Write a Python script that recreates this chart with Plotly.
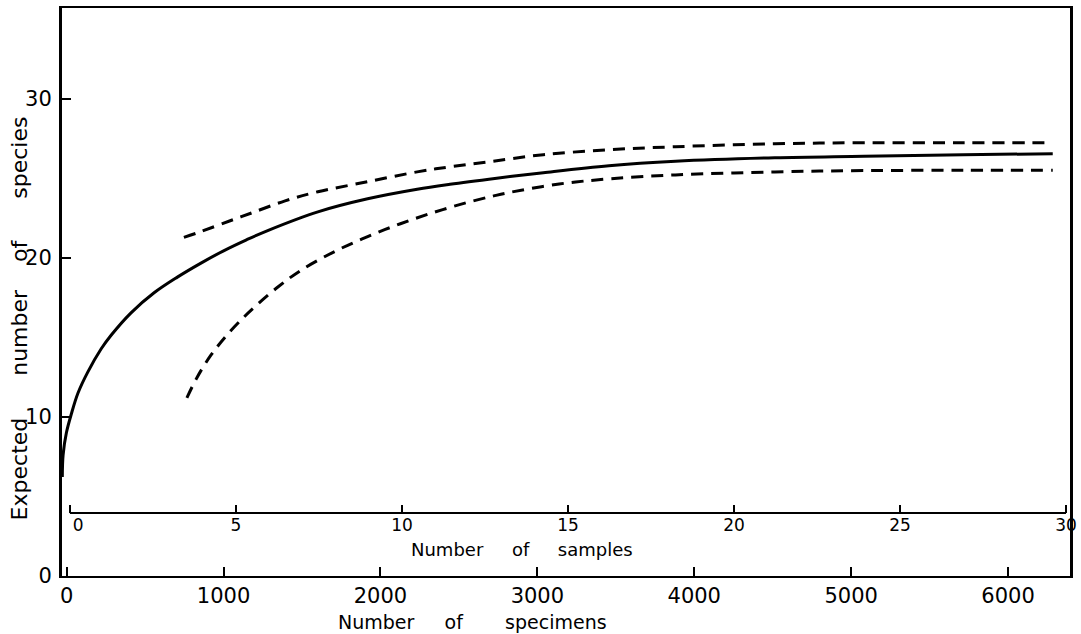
import plotly.graph_objects as go

# ---- data ----
specimens_mean = [-28, -23, -2, 30, 72, 135, 220, 283, 410, 557, 703, 853, 1000, 1146,
                  1285, 1601, 1918, 2234, 2443, 2741, 3038, 3456, 3880, 4513, 5082, 5715, 6285]
species_mean = [6.23, 7.6, 9.0, 10.2, 11.5, 12.83, 14.28, 15.13, 16.54, 17.8, 18.77, 19.65, 20.44,
                21.13, 21.73, 22.89, 23.71, 24.31, 24.62, 25.0, 25.35, 25.79, 26.07, 26.29,
                26.38, 26.48, 26.54]

specimens_upper = [747, 853, 1042, 1190, 1392, 1601, 1918, 2234, 2443, 2696, 3038, 3456,
                   3880, 4513, 5082, 5715, 6285]
species_upper = [21.28, 21.64, 22.33, 22.86, 23.58, 24.15, 24.78, 25.4, 25.72, 26.04, 26.48,
                 26.79, 26.98, 27.17, 27.23, 27.23, 27.23]

specimens_lower = [766, 829, 918, 1019, 1127, 1190, 1348, 1494, 1709, 1918, 2127, 2342,
                   2551, 2722, 2823, 3139, 3456, 3880, 4513, 5082, 5715, 6285]
species_lower = [11.19, 12.45, 13.86, 15.12, 16.25, 16.84, 18.18, 19.22, 20.4, 21.33, 22.14,
                 22.86, 23.47, 23.89, 24.11, 24.64, 24.96, 25.21, 25.4, 25.48, 25.5, 25.5]

specimen_ticks = [0, 1000, 2000, 3000, 4000, 5000, 6000]
species_ticks = [0, 10, 20, 30]
sample_ticks = [0, 5, 10, 15, 20, 25, 30]
sample_axis_level = 3.96  # species value where the samples axis is drawn

FONT = "DejaVu Sans"
NB = "\u00a0"

# first sample tick label nudged right (as in the original)
sample_ticktext = [str(v) for v in sample_ticks]
sample_ticktext[0] = NB * 3 + sample_ticktext[0]

fig = go.Figure()

fig.add_trace(go.Scatter(x=specimens_mean, y=species_mean, mode="lines",
                         line=dict(color="black", width=3, shape="spline", smoothing=1.0),
                         hoverinfo="skip", showlegend=False))
fig.add_trace(go.Scatter(x=specimens_upper, y=species_upper, mode="lines",
                         line=dict(color="black", width=3, dash="12px,8px", shape="spline", smoothing=1.0),
                         hoverinfo="skip", showlegend=False))
fig.add_trace(go.Scatter(x=specimens_lower, y=species_lower, mode="lines",
                         line=dict(color="black", width=3, dash="12px,8px", shape="spline", smoothing=1.0),
                         hoverinfo="skip", showlegend=False))

# samples axis line (secondary x axis)
fig.add_trace(go.Scatter(x=[sample_ticks[0], sample_ticks[-1]],
                         y=[sample_axis_level, sample_axis_level],
                         xaxis="x2", yaxis="y", mode="lines",
                         line=dict(color="black", width=2),
                         hoverinfo="skip", showlegend=False))

y_max = 35.7
fig.update_layout(
    width=1081, height=634,
    margin=dict(l=62, r=4, t=8, b=58),
    paper_bgcolor="white", plot_bgcolor="rgba(0,0,0,0)",
    font=dict(family=FONT, color="black"),
    xaxis=dict(range=[-30, 6395], tickvals=specimen_ticks,
               ticktext=[str(v) for v in specimen_ticks],
               ticks="inside", ticklen=9, tickwidth=2, tickcolor="black",
               showline=True, linewidth=2, linecolor="black", mirror=True,
               showgrid=False, zeroline=False,
               tickfont=dict(family=FONT, size=21, color="black")),
    xaxis2=dict(overlaying="x", anchor="free", position=sample_axis_level / y_max,
                side="bottom", range=[-0.239, 30.12], tickvals=sample_ticks,
                ticktext=sample_ticktext,
                ticks="inside", ticklen=8, tickwidth=2, tickcolor="black",
                showline=False, showgrid=False, zeroline=False,
                tickfont=dict(family=FONT, size=17, color="black")),
    yaxis=dict(range=[0, y_max], tickvals=species_ticks,
               ticktext=[str(v) for v in species_ticks],
               ticks="inside", ticklen=9, tickwidth=2, tickcolor="black",
               showline=True, linewidth=3, linecolor="black", mirror=True,
               showgrid=False, zeroline=False, ticklabelstandoff=3,
               tickfont=dict(family=FONT, size=21, color="black")),
    annotations=[
        dict(text=("Expected" + NB * 6 + "number" + NB * 4 + "of" + NB * 6 + "species"),
             xref="paper", yref="paper", x=-0.0424, y=0.454, textangle=-90,
             showarrow=False, xanchor="center", yanchor="middle",
             font=dict(family=FONT, size=22, color="black")),
        dict(text=("Number" + NB * 5 + "of" + NB * 5 + "samples"),
             xref="paper", yref="paper", x=0.456, y=0.0458,
             showarrow=False, xanchor="center", yanchor="middle",
             font=dict(family=FONT, size=18, color="black")),
        dict(text=("Number" + NB * 5 + "of" + NB * 7 + "specimens"),
             xref="paper", yref="paper", x=0.407, y=-0.081,
             showarrow=False, xanchor="center", yanchor="middle",
             font=dict(family=FONT, size=19, color="black")),
    ],
)

fig.write_html("out.html", config={"displayModeBar": False},
               post_script="document.body.style.margin='0px';")
